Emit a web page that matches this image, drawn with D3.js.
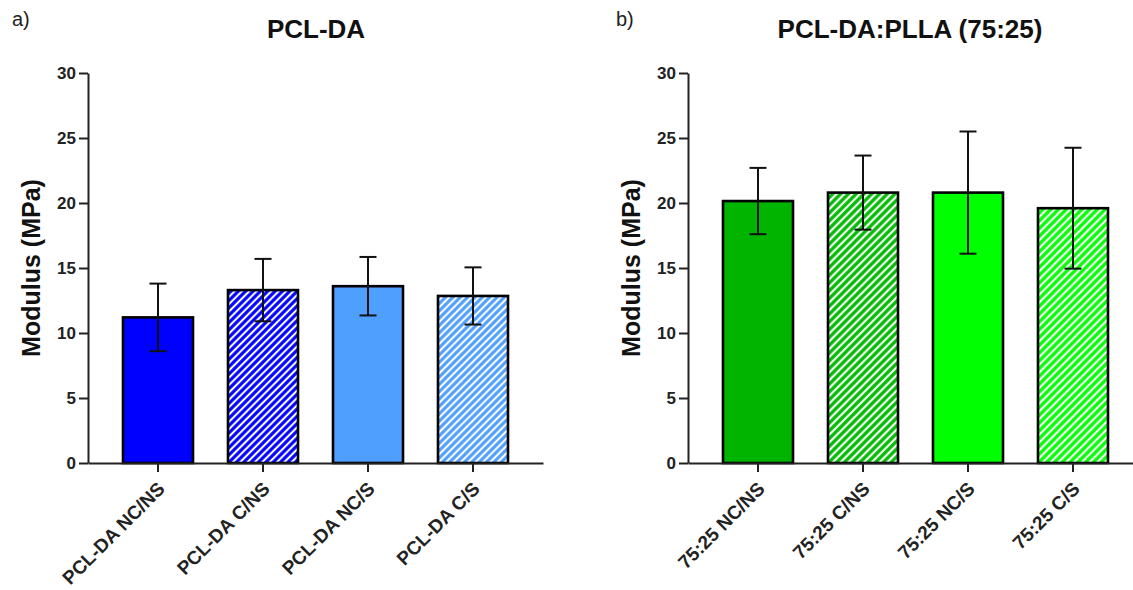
<!DOCTYPE html>
<html>
<head>
<meta charset="utf-8">
<script src="https://cdn.jsdelivr.net/npm/d3@7"></script>
<style>
  body { margin: 0; background: #fff; }
  svg { display: block; font-family: "Liberation Sans", Arial, sans-serif; }
</style>
</head>
<body>
<div id="chart"></div>
<script>
// values
const pclCategories = ["PCL-DA NC/NS", "PCL-DA C/NS", "PCL-DA NC/S", "PCL-DA C/S"];
const pclMeans = [11.2, 13.3, 13.6, 12.85];
const pclSD = [2.6, 2.4, 2.25, 2.2];

const blendCategories = ["75:25 NC/NS", "75:25 C/NS", "75:25 NC/S", "75:25 C/S"];
const blendMeans = [20.15, 20.8, 20.8, 19.6];
const blendSD = [2.55, 2.85, 4.7, 4.65];

const yTicks = [0, 5, 10, 15, 20, 25, 30];

const width = 1133, height = 590;
const svg = d3.select("#chart").append("svg")
  .attr("width", width)
  .attr("height", height);

const defs = svg.append("defs");

const makeHatch = (id, color, size) => {
  const p = defs.append("pattern")
    .attr("id", id)
    .attr("patternUnits", "userSpaceOnUse")
    .attr("width", size)
    .attr("height", size)
    .attr("patternTransform", "rotate(45)");
  p.append("rect").attr("width", size).attr("height", size).attr("fill", color);
  p.append("line")
    .attr("x1", size / 2).attr("x2", size / 2)
    .attr("y1", 0).attr("y2", size)
    .attr("stroke", "#fff")
    .attr("stroke-width", size * 0.4);
};

makeHatch("hatchBlue", "#0000ff", 5.2);
makeHatch("hatchLightBlue", "#4f9fff", 5.2);
makeHatch("hatchGreen", "#00bc00", 5.5);
makeHatch("hatchLime", "#00ff00", 5.5);

const drawPanel = (opts) => {
  const { categories, means, sd, fills, left, right, title, letter, letterX, titleX } = opts;
  const top = 73, bottom = 463;
  const g = svg.append("g");

  const x = d3.scaleBand().domain(categories).range([left, right])
    .paddingInner(1 / 3).paddingOuter(1 / 3);
  const y = d3.scaleLinear().domain([0, 30]).range([bottom, top]);

  // bars
  g.selectAll("rect.bar")
    .data(categories)
    .join("rect")
    .attr("class", "bar")
    .attr("x", d => x(d))
    .attr("width", x.bandwidth())
    .attr("y", (d, i) => y(means[i]))
    .attr("height", (d, i) => y(0) - y(means[i]))
    .attr("fill", (d, i) => fills[i])
    .attr("stroke", "#000")
    .attr("stroke-width", 2.6);

  // error bars
  const cap = 8.5;
  categories.forEach((c, i) => {
    const cx = x(c) + x.bandwidth() / 2;
    const hi = y(means[i] + sd[i]);
    const lo = y(means[i] - sd[i]);
    g.append("line").attr("x1", cx).attr("x2", cx).attr("y1", hi).attr("y2", lo)
      .attr("stroke", "#111").attr("stroke-width", 2);
    g.append("line").attr("x1", cx - cap).attr("x2", cx + cap).attr("y1", hi).attr("y2", hi)
      .attr("stroke", "#111").attr("stroke-width", 2);
    g.append("line").attr("x1", cx - cap).attr("x2", cx + cap).attr("y1", lo).attr("y2", lo)
      .attr("stroke", "#111").attr("stroke-width", 2);
  });

  // y axis
  const yAxis = g.append("g")
    .attr("transform", `translate(${left},0)`)
    .call(d3.axisLeft(y).tickValues(yTicks).tickSize(9).tickPadding(3).tickSizeOuter(0));
  yAxis.select(".domain").attr("stroke", "#222").attr("stroke-width", 2);
  yAxis.selectAll(".tick line").attr("stroke", "#222").attr("stroke-width", 2);
  yAxis.selectAll(".tick text")
    .attr("font-size", 17).attr("font-weight", "bold").attr("fill", "#222")
    .attr("font-family", "Liberation Sans, Arial, sans-serif");

  // x axis
  const xAxis = g.append("g")
    .attr("transform", `translate(0,${bottom})`)
    .call(d3.axisBottom(x).tickSize(9).tickSizeOuter(0));
  xAxis.select(".domain").attr("stroke", "#222").attr("stroke-width", 2);
  xAxis.selectAll(".tick line").attr("stroke", "#222").attr("stroke-width", 2);
  xAxis.selectAll(".tick text")
    .attr("font-size", 19).attr("font-weight", "bold").attr("fill", "#222")
    .attr("font-family", "Liberation Sans, Arial, sans-serif")
    .attr("text-anchor", "end")
    .attr("dy", 0)
    .attr("y", 0)
    .attr("transform", "translate(8,27) rotate(-45)");

  // y title
  g.append("text")
    .attr("transform", `translate(${left - 48},${(top + bottom) / 2}) rotate(-90)`)
    .attr("text-anchor", "middle")
    .attr("font-size", 25)
    .attr("font-weight", "bold")
    .attr("fill", "#111")
    .text("Modulus (MPa)");

  // title
  g.append("text")
    .attr("x", titleX)
    .attr("y", 38)
    .attr("text-anchor", "middle")
    .attr("font-size", 26)
    .attr("font-weight", "bold")
    .attr("fill", "#111")
    .text(title);

  // panel letter
  g.append("text")
    .attr("x", letterX)
    .attr("y", 26)
    .attr("font-size", 20)
    .attr("fill", "#222")
    .text(letter);
};

drawPanel({
  categories: pclCategories,
  means: pclMeans,
  sd: pclSD,
  fills: ["#0000ff", "url(#hatchBlue)", "#4f9fff", "url(#hatchLightBlue)"],
  left: 88, right: 543,
  title: "PCL-DA", titleX: 316,
  letter: "a)", letterX: 12
});

drawPanel({
  categories: blendCategories,
  means: blendMeans,
  sd: blendSD,
  fills: ["#00b400", "url(#hatchGreen)", "#00ff00", "url(#hatchLime)"],
  left: 688, right: 1143,
  title: "PCL-DA:PLLA (75:25)", titleX: 910,
  letter: "b)", letterX: 616
});
</script>
</body>
</html>
